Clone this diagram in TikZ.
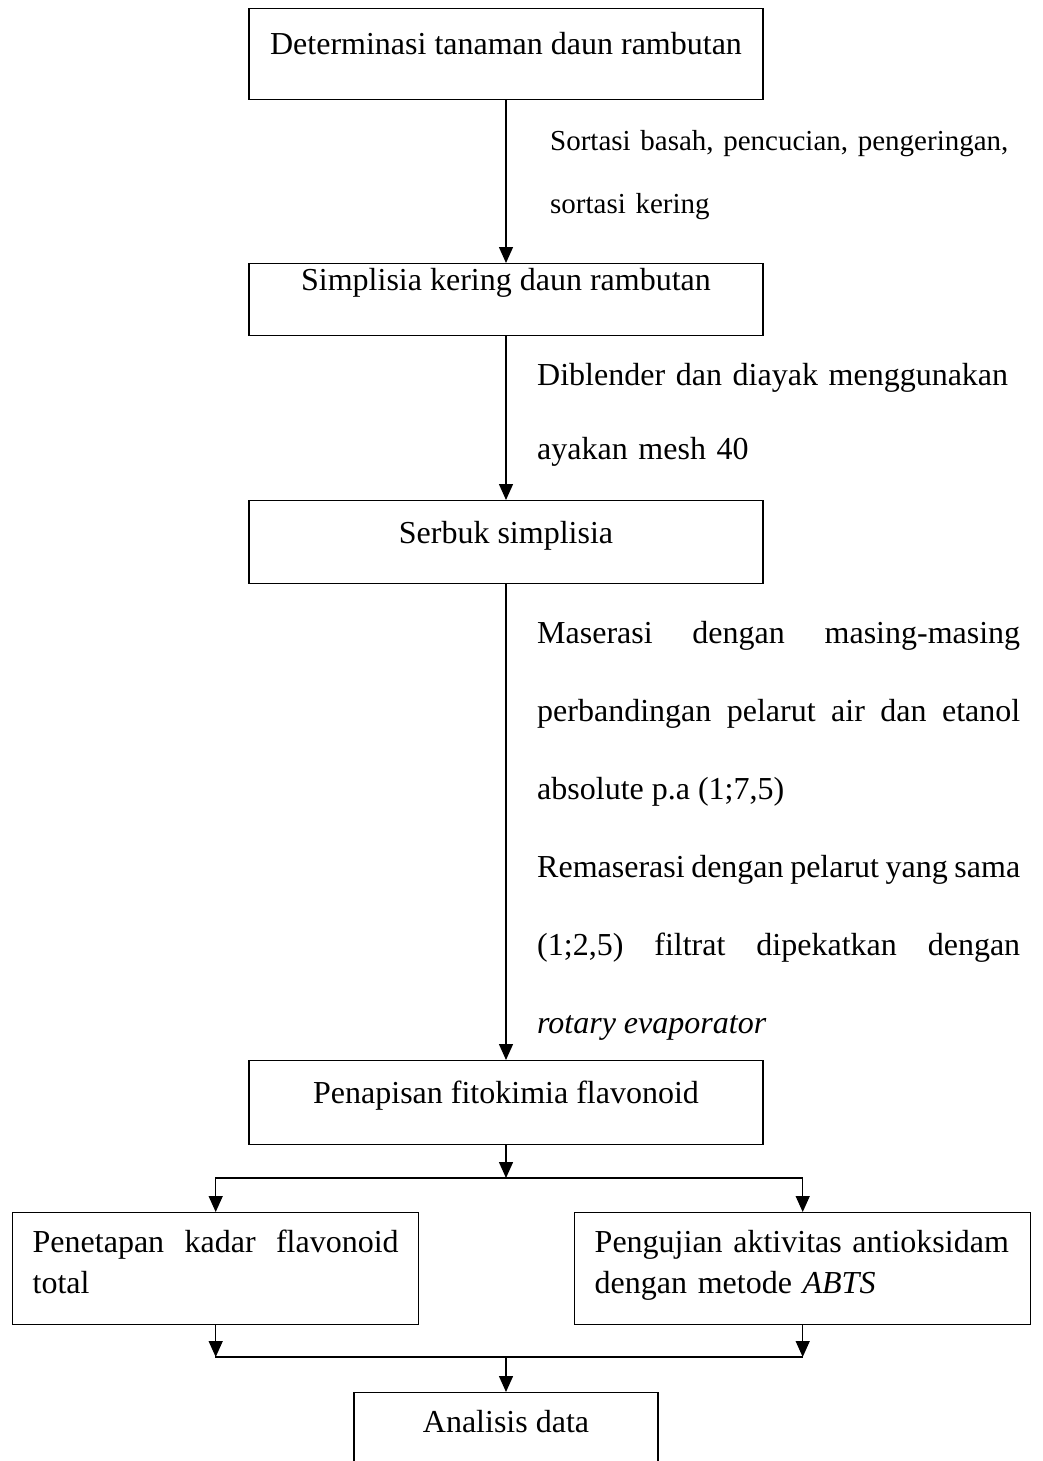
\documentclass[tikz,border=0pt]{standalone}
\usepackage{fontspec}
\setmainfont{Liberation Serif}
\usepackage{tikz}
\usetikzlibrary{arrows.meta,positioning}
\hyphenpenalty=10000
\exhyphenpenalty=10000
\tolerance=10000
\tikzset{
  stepbox/.style={draw, line width=1.4pt, inner sep=0pt, align=center,
                  font=\fontsize{32}{41}\selectfont},
  sidebox/.style={stepbox, anchor=north west, inner xsep=20pt,
                  text height=40pt, text depth=72pt},
  note/.style={anchor=base west, inner sep=0pt, align=left},
  flow/.style={line width=1.4pt, -{Triangle[length=16pt,width=14pt]}},
  rail/.style={line width=1.4pt, line cap=rect},
}
\begin{document}
\begin{tikzpicture}[x=1pt, y=-1pt]
  \useasboundingbox (0,0) rectangle (1043,1461);
  \fill[white] (0,0) rectangle (1043,1461);
  \clip (0,0) rectangle (1043,1461);

  % main column
  \node[stepbox, anchor=north, minimum width=514pt, text height=46pt, text depth=45pt]
    (det) at (506,8) {Determinasi tanaman daun rambutan};
  \node[stepbox, anchor=north, minimum width=514pt, text height=27pt, text depth=45pt]
    (simp) at (506,263) {Simplisia kering daun rambutan};
  \node[stepbox, anchor=north, minimum width=514pt, text height=43pt, text depth=40pt]
    (serbuk) at (506,500) {Serbuk simplisia};
  \node[stepbox, anchor=north, minimum width=514pt, text height=43pt, text depth=41pt]
    (pen) at (506,1060) {Penapisan fitokimia flavonoid};

  % two tests
  \node[sidebox, text width=366pt, align=justify] (kadar) at (12,1212)
    {Penetapan kadar flavonoid\linebreak total};
  \node[sidebox, text width=416pt, align=left] (uji) at (574,1212)
    {Pengujian aktivitas antioksidam\\dengan metode \textit{ABTS}};

  \node[stepbox, anchor=north, minimum width=304pt, text height=40pt, text depth=40pt]
    (anal) at (506,1392) {Analisis data};

  % process notes
  \node[note, text width=470pt, font=\fontsize{29}{63}\selectfont] (sortasi) at (550,150)
    {Sortasi basah, pencucian, pengeringan,\\sortasi kering};
  \node[note, text width=483pt, font=\fontsize{32}{74}\selectfont] (blender) at (537,385)
    {Diblender dan diayak menggunakan\\ayakan mesh 40};
  \node[note, text width=483pt, align=justify, font=\fontsize{32}{78}\selectfont] (maserasi) at (537,643)
    {Maserasi dengan masing-masing\linebreak perbandingan pelarut air dan etanol\linebreak
     absolute p.a (1;7,5)\\Remaserasi dengan pelarut yang sama\linebreak
     (1;2,5) filtrat dipekatkan dengan\linebreak \textit{rotary evaporator}};

  \coordinate (split) at (506,1178);
  \coordinate (merge) at (506,1357);

  \draw[flow] (det) -- (simp);
  \draw[flow] (simp) -- (serbuk);
  \draw[flow] (serbuk) -- (pen);
  \draw[flow] (pen) -- (split);
  \draw[rail] (split -| kadar) -- (split -| uji);
  \draw[flow] (split -| kadar) -- (kadar);
  \draw[flow] (split -| uji) -- (uji);
  \draw[flow] (kadar) -- (merge -| kadar);
  \draw[flow] (uji) -- (merge -| uji);
  \draw[rail] (merge -| kadar) -- (merge -| uji);
  \draw[flow] (merge) -- (anal);
\end{tikzpicture}
\end{document}
